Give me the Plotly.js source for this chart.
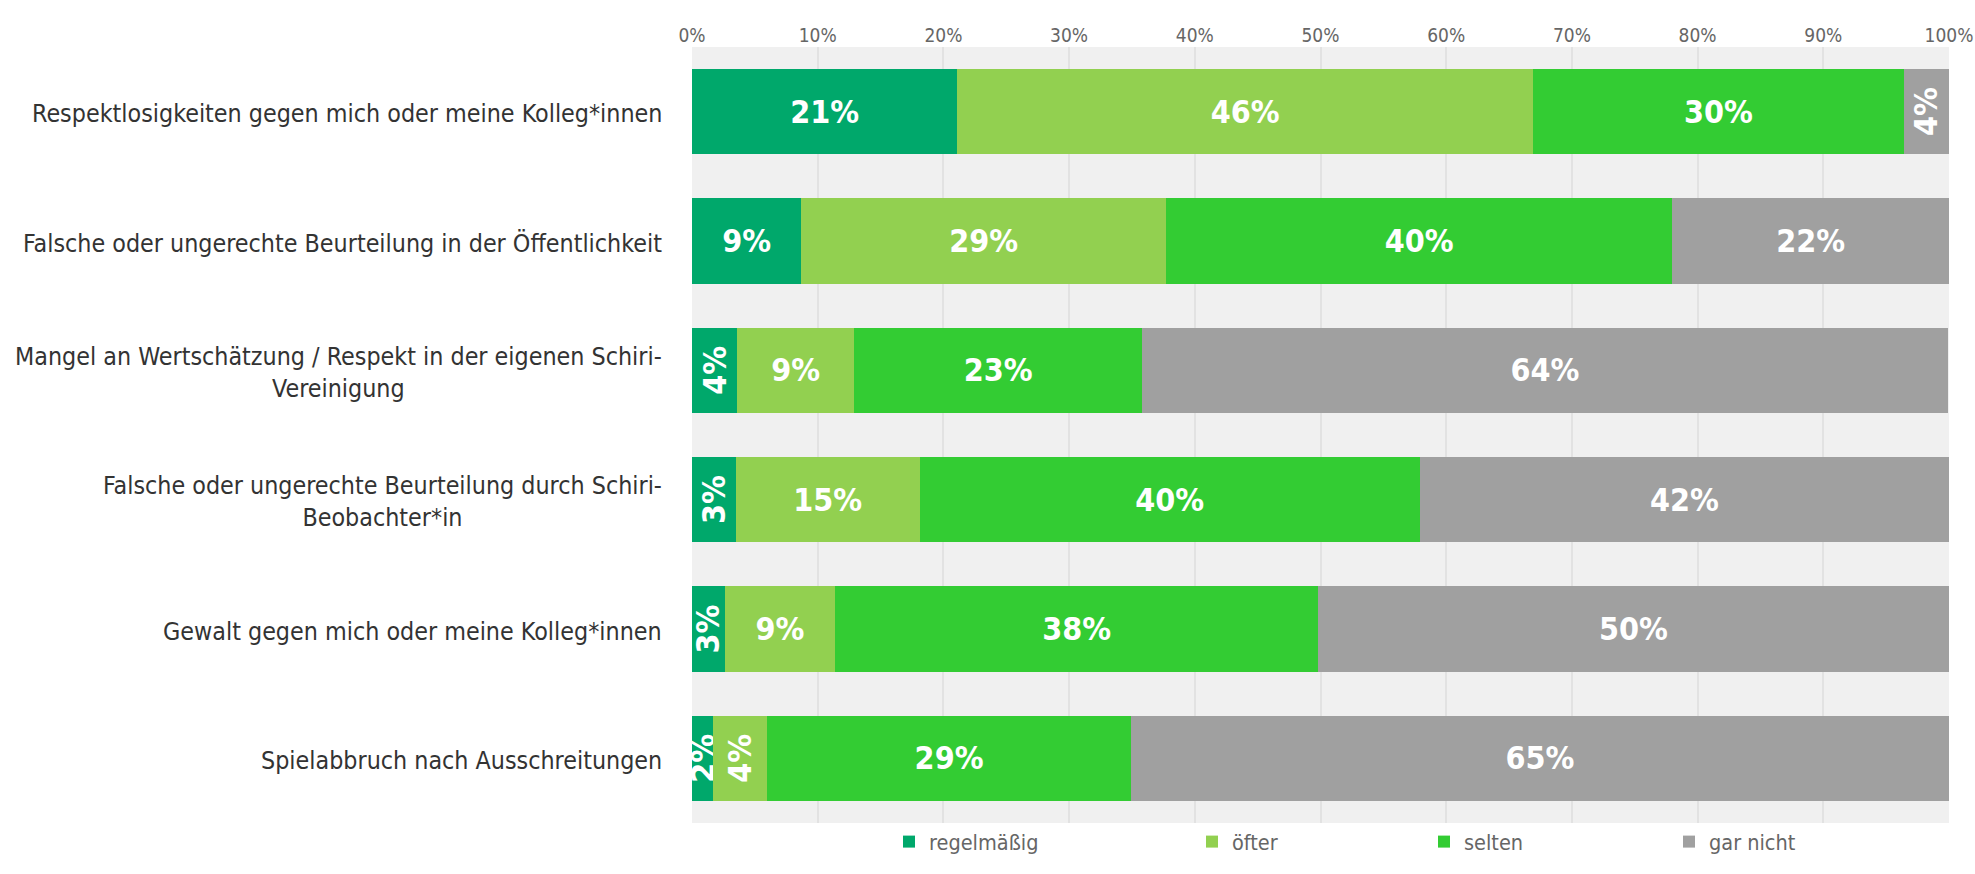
<!DOCTYPE html>
<html>
<head>
<meta charset="utf-8">
<script src="https://cdn.plot.ly/plotly-3.0.1.min.js"></script>
<style>
html,body{margin:0;padding:0;background:#fff;}
#chart{width:1975px;height:874px;}
#chart svg text{font-stretch:condensed !important;}
</style>
</head>
<body>
<div id="chart"></div>
<script>
const categories = [
  "Respektlosigkeiten gegen mich oder meine Kolleg*innen",
  "Falsche oder ungerechte Beurteilung in der Öffentlichkeit",
  "Mangel an Wertschätzung / Respekt in der eigenen Schiri-<br>Vereinigung",
  "Falsche oder ungerechte Beurteilung durch Schiri-<br>Beobachter*in",
  "Gewalt gegen mich oder meine Kolleg*innen",
  "Spielabbruch nach Ausschreitungen"
];
const seriesNames = ["regelmäßig", "öfter", "selten", "gar nicht"];
const regelmaessig = [21.1, 8.7, 3.6, 3.5, 2.6, 1.7];
const oefter       = [45.8, 29.0, 9.3, 14.6, 8.8, 4.3];
const selten       = [29.5, 40.3, 22.9, 39.8, 38.4, 28.9];
const garNicht     = [3.6, 22.0, 64.1, 42.1, 50.2, 65.1];
const labelsRegel  = ["21%", "9%", "4%", "3%", "3%", "2%"];
const labelsOefter = ["46%", "29%", "9%", "15%", "9%", "4%"];
const labelsSelten = ["30%", "40%", "23%", "40%", "38%", "29%"];
const labelsGar    = ["4%", "22%", "64%", "42%", "50%", "65%"];
const tickVals = [0, 10, 20, 30, 40, 50, 60, 70, 80, 90, 100];
const tickText = ["0%", "10%", "20%", "30%", "40%", "50%", "60%", "70%", "80%", "90%", "100%"];
const colors = ["#00a86b", "#92d050", "#33cc33", "#a0a0a0"];

const FONT = "'DejaVu Sans Condensed', 'DejaVu Sans', sans-serif";
const values = [regelmaessig, oefter, selten, garNicht];
const texts = [labelsRegel, labelsOefter, labelsSelten, labelsGar];
const legendNames = ["legend", "legend2", "legend3", "legend4"];

const traces = values.map((v, i) => ({
  type: "bar",
  orientation: "h",
  name: seriesNames[i],
  x: v,
  y: categories,
  text: texts[i],
  texttemplate: "%{text}",
  textposition: "inside",
  insidetextanchor: "middle",
  textangle: "auto",
  insidetextfont: {color: "#ffffff", size: 32, family: FONT, weight: "bold"},
  marker: {color: colors[i], line: {width: 0}},
  width: 0.66,
  legend: legendNames[i],
  hoverinfo: "skip"
}));

const legendX = [909, 1212, 1444, 1689];
const legendBase = {
  orientation: "h",
  yanchor: "middle",
  xanchor: "left",
  y: -0.024,
  font: {family: FONT, size: 21.5, color: "#666666"},
  bgcolor: "rgba(0,0,0,0)",
  itemwidth: 30
};

const layout = {
  width: 1975,
  height: 874,
  margin: {l: 692, r: 26, t: 47, b: 31},
  paper_bgcolor: "#ffffff",
  plot_bgcolor: "#f0f0f0",
  barmode: "stack",
  bargap: 0.34,
  font: {family: FONT, color: "#333333"},
  showlegend: true,
  uniformtext: {mode: "show", minsize: 32},
  xaxis: {
    side: "top",
    range: [0, 100],
    tickvals: tickVals,
    ticktext: tickText,
    tickfont: {family: FONT, size: 19, color: "#666666"},
    showgrid: true,
    gridcolor: "#e2e2e2",
    gridwidth: 2,
    zeroline: false,
    showline: false,
    ticks: "",
    fixedrange: true
  },
  yaxis: {
    type: "category",
    autorange: "reversed",
    showticklabels: false,
    showgrid: false,
    zeroline: false,
    ticks: "",
    fixedrange: true
  },
  annotations: categories.map(c => ({
    xref: "paper", yref: "y",
    x: 0, y: c,
    xanchor: "right", yanchor: "middle",
    xshift: -28,
    yshift: -2,
    align: "center",
    showarrow: false,
    text: c,
    font: {family: FONT, size: 24.8, color: "#333333"}
  }))
};
legendNames.forEach((ln, i) => {
  layout[ln] = Object.assign({}, legendBase, {x: (legendX[i] - 692 - 20) / 1257});
});

Plotly.newPlot("chart", traces, layout, {displayModeBar: false, staticPlot: true}).then(gd => {
  gd.querySelectorAll("text.bartext").forEach(t => {
    const tr = t.getAttribute("transform");
    if (tr && /rotate\(90[ )]/.test(tr)) {
      t.setAttribute("transform", tr.replace(/rotate\(90/, "rotate(-90"));
    }
  });
});
</script>
</body>
</html>
